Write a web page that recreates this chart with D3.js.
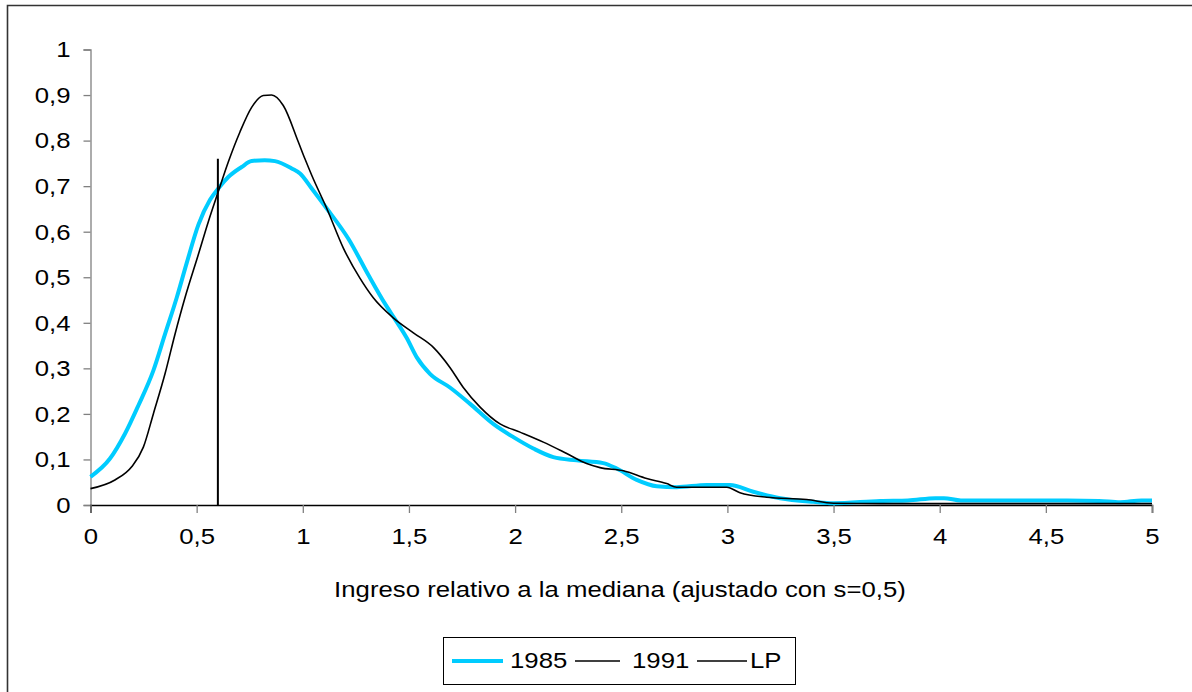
<!DOCTYPE html>
<html><head><meta charset="utf-8">
<script src="https://cdn.jsdelivr.net/npm/d3@7"></script>
<style>body{margin:0;background:#fff}svg{display:block;font-family:"Liberation Sans",Arial,sans-serif}</style>
</head><body>
<svg id="c" width="1192" height="692"></svg>
<script>
const xTicks = [0,0.5,1,1.5,2,2.5,3,3.5,4,4.5,5];
const yTicks = [0,0.1,0.2,0.3,0.4,0.5,0.6,0.7,0.8,0.9,1];
const seriesNames = ["1985","1991","LP"];
const x1985 = [0,0.092,0.163,0.225,0.296,0.351,0.406,0.453,0.508,0.563,0.602,0.649,0.712,0.759,0.82,0.869,0.948,0.987,1.042,1.113,1.214,1.309,1.387,1.434,1.489,1.537,1.599,1.693,1.788,1.897,1.992,2.086,2.18,2.29,2.415,2.479,2.573,2.667,2.761,2.902,3.012,3.122,3.248,3.405,3.5,3.72,3.85,3.98,4.02,4.1,4.4,4.6,4.75,4.85,4.95,5];
const y1985 = [0.062,0.102,0.157,0.218,0.295,0.375,0.455,0.531,0.615,0.67,0.695,0.72,0.742,0.755,0.757,0.755,0.739,0.728,0.695,0.651,0.585,0.505,0.442,0.408,0.367,0.324,0.288,0.258,0.222,0.178,0.149,0.124,0.105,0.098,0.092,0.08,0.055,0.041,0.039,0.044,0.044,0.029,0.015,0.007,0.004,0.009,0.01,0.015,0.015,0.01,0.01,0.01,0.009,0.006,0.01,0.01];
const x1991 = [0,0.115,0.194,0.249,0.296,0.351,0.398,0.445,0.508,0.555,0.602,0.649,0.704,0.759,0.814,0.853,0.908,0.979,1.01,1.042,1.113,1.191,1.269,1.332,1.426,1.521,1.615,1.693,1.756,1.835,1.929,2.023,2.133,2.243,2.337,2.4,2.51,2.62,2.714,2.761,2.997,3.059,3.185,3.373,3.5,3.72,4,4.5,5];
const y1991 = [0.036,0.055,0.084,0.127,0.2,0.288,0.375,0.455,0.55,0.622,0.688,0.753,0.819,0.873,0.899,0.9,0.877,0.797,0.76,0.724,0.651,0.564,0.498,0.455,0.411,0.378,0.346,0.302,0.258,0.215,0.178,0.16,0.138,0.113,0.091,0.082,0.075,0.058,0.047,0.039,0.039,0.027,0.017,0.012,0.004,0.003,0.003,0.003,0.003];
const xLP = [0.6,0.6];
const yLP = [0,0.76];

const svg = d3.select("#c");
const x = d3.scaleLinear().domain([0,5]).range([90.5,1152]);
const y = d3.scaleLinear().domain([0,1]).range([505,49.5]);
const FS = 23, SX = 1.12;
function stretch(sel){
  sel.each(function(){
    const t = d3.select(this);
    const tx = +t.attr("x") || 0;
    t.attr("transform", `translate(${tx},0) scale(${SX},1) translate(${-tx},0)`);
  });
}

svg.append("path").attr("d","M7.5,700 L7.5,5.5 L1200,5.5").attr("fill","none").attr("stroke","#333").attr("stroke-width",1.6);

const fmt = d=>d3.format(".1~f")(d).replace(".",",");
const ya = svg.append("g").attr("transform",`translate(${x(0)},0)`)
  .call(d3.axisLeft(y).tickValues(yTicks).tickSize(7).tickPadding(13).tickFormat(fmt));
ya.select(".domain").attr("stroke","#808080").attr("stroke-width",1.3);
ya.selectAll(".tick line").attr("stroke","#808080").attr("stroke-width",1.3);
ya.selectAll("text").attr("font-size",FS).attr("fill","#000").attr("font-family","Liberation Sans, Arial, sans-serif").call(stretch);

const xa = svg.append("g").attr("transform",`translate(0,${y(0)})`)
  .call(d3.axisBottom(x).tickValues(xTicks).tickSize(8).tickPadding(15).tickFormat(fmt));
xa.select(".domain").attr("stroke","#000").attr("stroke-width",1.5);
xa.selectAll(".tick line").attr("stroke","#808080").attr("stroke-width",1.3);
xa.selectAll("text").attr("font-size",FS).attr("fill","#000").attr("font-family","Liberation Sans, Arial, sans-serif").call(stretch);

svg.append("text").attr("x",620).attr("y",597).attr("text-anchor","middle").attr("font-size",FS)
  .text("Ingreso relativo a la mediana (ajustado con s=0,5)").call(stretch);

const line = d3.line().x(d=>x(d[0])).y(d=>y(d[1])).curve(d3.curveMonotoneX);
const d85 = x1985.map((v,i)=>[v,y1985[i]]);
const d91 = x1991.map((v,i)=>[v,y1991[i]]);
const dLP = xLP.map((v,i)=>[v,yLP[i]]);
svg.append("path").datum(d85).attr("d",line).attr("fill","none").attr("stroke","#00CCFF").attr("stroke-width",4);
svg.append("path").datum(d91).attr("d",line).attr("fill","none").attr("stroke","#000").attr("stroke-width",1.6);
svg.append("path").datum(dLP).attr("d",d3.line().x(d=>x(d[0])).y(d=>y(d[1]))).attr("fill","none").attr("stroke","#000").attr("stroke-width",2);

const lg = svg.append("g");
lg.append("rect").attr("x",443.5).attr("y",637.5).attr("width",352).attr("height",47).attr("fill","#fff").attr("stroke","#000").attr("stroke-width",1);
const items = [
  {name:seriesNames[0], x0:452, x1:503, tx:510, color:"#00CCFF", w:4},
  {name:seriesNames[1], x0:575, x1:620, tx:632, color:"#000", w:1.5},
  {name:seriesNames[2], x0:697, x1:747, tx:750, color:"#000", w:1.5}
];
items.forEach(it=>{
  lg.append("line").attr("x1",it.x0).attr("x2",it.x1).attr("y1",661).attr("y2",661).attr("stroke",it.color).attr("stroke-width",it.w);
  lg.append("text").attr("x",it.tx).attr("y",668).attr("font-size",FS).text(it.name).call(stretch);
});
</script>
</body></html>
